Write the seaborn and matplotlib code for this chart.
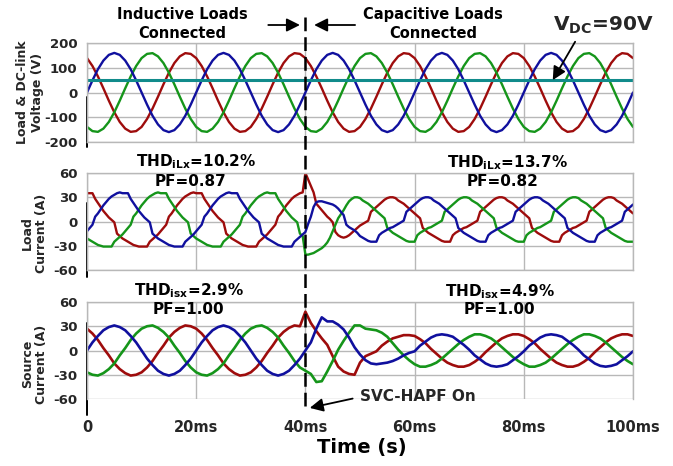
import numpy as np
import matplotlib
matplotlib.use("Agg")
import matplotlib.pyplot as plt
import seaborn as sns
from matplotlib.lines import Line2D
from matplotlib import transforms

# ---------------- data ----------------
# time grids (ms)
t_volt = np.arange(0, 101, 1.0)       # 1 ms samples, 0..100 ms
t_load = np.arange(0, 100.5, 0.5)     # 0.5 ms samples, 0..100 ms
t_src = np.arange(0, 101, 1.0)        # 1 ms samples, 0..100 ms

# Load voltages (V)
volt_blue = [
    0, 49, 94, 129, 152, 160, 152, 129, 94, 49, 0, -49, -94, -129, -152, -160, -152, -129, -94, -49,
    0, 49, 94, 129, 152, 160, 152, 129, 94, 49, 0, -49, -94, -129, -152, -160, -152, -129, -94, -49,
    0, 49, 94, 129, 152, 160, 152, 129, 94, 49, 0, -49, -94, -129, -152, -160, -152, -129, -94, -49,
    0, 49, 94, 129, 152, 160, 152, 129, 94, 49, 0, -49, -94, -129, -152, -160, -152, -129, -94, -49,
    0, 49, 94, 129, 152, 160, 152, 129, 94, 49, 0, -49, -94, -129, -152, -160, -152, -129, -94, -49,
    0]
volt_red = [
    139, 107, 65, 17, -33, -80, -119, -146, -159, -156, -139, -107, -65, -17, 33, 80, 119, 146, 159, 156,
    139, 107, 65, 17, -33, -80, -119, -146, -159, -156, -139, -107, -65, -17, 33, 80, 119, 146, 159, 156,
    139, 107, 65, 17, -33, -80, -119, -146, -159, -156, -139, -107, -65, -17, 33, 80, 119, 146, 159, 156,
    139, 107, 65, 17, -33, -80, -119, -146, -159, -156, -139, -107, -65, -17, 33, 80, 119, 146, 159, 156,
    139, 107, 65, 17, -33, -80, -119, -146, -159, -156, -139, -107, -65, -17, 33, 80, 119, 146, 159, 156,
    139]
volt_green = [
    -139, -156, -159, -146, -119, -80, -33, 17, 65, 107, 139, 156, 159, 146, 119, 80, 33, -17, -65, -107,
    -139, -156, -159, -146, -119, -80, -33, 17, 65, 107, 139, 156, 159, 146, 119, 80, 33, -17, -65, -107,
    -139, -156, -159, -146, -119, -80, -33, 17, 65, 107, 139, 156, 159, 146, 119, 80, 33, -17, -65, -107,
    -139, -156, -159, -146, -119, -80, -33, 17, 65, 107, 139, 156, 159, 146, 119, 80, 33, -17, -65, -107,
    -139, -156, -159, -146, -119, -80, -33, 17, 65, 107, 139, 156, 159, 146, 119, 80, 33, -17, -65, -107,
    -139]
dc_link_t = [0, 100]
dc_link_v = [50, 50]

# Load currents (A), 0.5 ms grid
load_red = [
    35, 35, 35, 28, 23, 18, 13, 9, 5, 2, -1, -15, -18, -21, -23, -25, -27, -29, -30, -31,
    -31, -31, -31, -25, -22, -19, -16, -12, -8, -4, 6, 10, 15, 20, 24, 28, 31, 33, 35, 36,
    35, 35, 35, 28, 23, 18, 13, 9, 5, 2, -1, -15, -18, -21, -23, -25, -27, -29, -30, -31,
    -31, -31, -31, -25, -22, -19, -16, -12, -8, -4, 6, 10, 15, 20, 24, 28, 31, 33, 35, 36,
    60, 52, 44, 36, 22, 18, 14, 10, 6, 3, -1, -13, -17, -19, -20, -19, -17, -14, -11, -8,
    -5, -3, -1, 1, 12, 15, 18, 21, 24, 27, 29, 30, 30, 29, 26, 24, 22, 19, 16, 13,
    10, 7, 4, -8, -11, -14, -16, -18, -20, -22, -24, -25, -25, -25, -17, -14, -12, -10, -8, -7,
    -5, -3, -1, 1, 12, 15, 18, 21, 24, 27, 29, 30, 30, 29, 26, 24, 22, 19, 16, 13,
    10, 7, 4, -8, -11, -14, -16, -18, -20, -22, -24, -25, -25, -25, -17, -14, -12, -10, -8, -7,
    -5, -3, -1, 1, 12, 15, 18, 21, 24, 27, 29, 30, 30, 29, 26, 24, 22, 19, 16, 13,
    10]
load_blue = [
    -12, -8, -4, 6, 10, 15, 20, 24, 28, 31, 33, 35, 36, 35, 35, 35, 28, 23, 18, 13,
    9, 5, 2, -1, -15, -18, -21, -23, -25, -27, -29, -30, -31, -31, -31, -31, -25, -22, -19, -16,
    -12, -8, -4, 6, 10, 15, 20, 24, 28, 31, 33, 35, 36, 35, 35, 35, 28, 23, 18, 13,
    9, 5, 2, -1, -15, -18, -21, -23, -25, -27, -29, -30, -31, -31, -31, -31, -25, -22, -19, -16,
    -13, -3, 6, 18, 24, 25, 25, 24, 23, 22, 21, 19, 16, 12, 8, -4, -7, -9, -11, -14,
    -18, -20, -22, -24, -25, -25, -25, -17, -14, -12, -10, -8, -7, -5, -3, -1, 1, 12, 15, 18,
    21, 24, 27, 29, 30, 30, 29, 26, 24, 22, 19, 16, 13, 10, 7, 4, -8, -11, -14, -16,
    -18, -20, -22, -24, -25, -25, -25, -17, -14, -12, -10, -8, -7, -5, -3, -1, 1, 12, 15, 18,
    21, 24, 27, 29, 30, 30, 29, 26, 24, 22, 19, 16, 13, 10, 7, 4, -8, -11, -14, -16,
    -18, -20, -22, -24, -25, -25, -25, -17, -14, -12, -10, -8, -7, -5, -3, -1, 1, 12, 15, 18,
    21]
load_green = [
    -21, -23, -25, -27, -29, -30, -31, -31, -31, -31, -25, -22, -19, -16, -12, -8, -4, 6, 10, 15,
    20, 24, 28, 31, 33, 35, 36, 35, 35, 35, 28, 23, 18, 13, 9, 5, 2, -1, -15, -18,
    -21, -23, -25, -27, -29, -30, -31, -31, -31, -31, -25, -22, -19, -16, -12, -8, -4, 6, 10, 15,
    20, 24, 28, 31, 33, 35, 36, 35, 35, 35, 28, 23, 18, 13, 9, 5, 2, -1, -15, -18,
    -41, -41, -40, -39, -37, -35, -33, -30, -26, -20, -12, -4, 4, 9, 14, 20, 25, 28, 30, 30,
    29, 26, 24, 22, 19, 16, 13, 10, 7, 4, -8, -11, -14, -16, -18, -20, -22, -24, -25, -25,
    -25, -17, -14, -12, -10, -8, -7, -5, -3, -1, 1, 12, 15, 18, 21, 24, 27, 29, 30, 30,
    29, 26, 24, 22, 19, 16, 13, 10, 7, 4, -8, -11, -14, -16, -18, -20, -22, -24, -25, -25,
    -25, -17, -14, -12, -10, -8, -7, -5, -3, -1, 1, 12, 15, 18, 21, 24, 27, 29, 30, 30,
    29, 26, 24, 22, 19, 16, 13, 10, 7, 4, -8, -11, -14, -16, -18, -20, -22, -24, -25, -25,
    -25]

# Source currents (A), 1 ms grid
src_blue = [
    0, 10, 18, 25, 29, 31, 29, 25, 18, 10, 0, -10, -18, -25, -29, -31, -29, -25, -18, -10,
    0, 10, 18, 25, 29, 31, 29, 25, 18, 10, 0, -10, -18, -25, -29, -31, -29, -25, -18, -10,
    0, 10, 27, 41, 36, 36, 32, 26, 16, 4, -5, -12, -16, -17, -16, -15, -13, -10, -6, -3,
    -1, 6, 11, 16, 19, 20, 19, 17, 12, 7, 1, -6, -11, -16, -19, -20, -19, -17, -12, -7,
    -1, 6, 11, 16, 19, 20, 19, 17, 12, 7, 1, -6, -11, -16, -19, -20, -19, -17, -12, -7,
    -1]
src_red = [
    27, 21, 13, 3, -6, -16, -23, -28, -31, -30, -27, -21, -13, -3, 6, 16, 23, 28, 31, 30,
    27, 21, 13, 3, -6, -16, -23, -28, -31, -30, -27, -21, -13, -3, 6, 16, 23, 28, 31, 30,
    48, 34, 24, 15, 7, -7, -20, -26, -29, -30, -15, -7, -4, -1, 6, 11, 15, 17, 19, 19,
    18, 14, 9, 2, -4, -10, -15, -18, -20, -20, -18, -14, -9, -2, 4, 10, 15, 18, 20, 20,
    18, 14, 9, 2, -4, -10, -15, -18, -20, -20, -18, -14, -9, -2, 4, 10, 15, 18, 20, 20,
    18]
src_green = [
    -27, -30, -31, -28, -23, -16, -6, 3, 13, 21, 27, 30, 31, 28, 23, 16, 6, -3, -13, -21,
    -27, -30, -31, -28, -23, -16, -6, 3, 13, 21, 27, 30, 31, 28, 23, 16, 6, -3, -13, -21,
    -25, -29, -39, -38, -26, -13, 1, 12, 22, 31, 31, 27, 26, 25, 22, 17, 9, 1, -6, -12,
    -17, -20, -20, -18, -15, -10, -4, 2, 8, 13, 17, 20, 20, 18, 15, 10, 4, -2, -8, -13,
    -17, -20, -20, -18, -15, -10, -4, 2, 8, 13, 17, 20, 20, 18, 15, 10, 4, -2, -8, -13,
    -17]

x_ticks = [0, 20, 40, 60, 80, 100]
x_tick_labels = ["0", "20ms", "40ms", "60ms", "80ms", "100ms"]
volt_ticks = [-200, -100, 0, 100, 200]
curr_ticks = [-60, -30, 0, 30, 60]
switch_time = 40

assert len(volt_blue) == len(volt_red) == len(volt_green) == len(t_volt)
assert len(load_blue) == len(load_red) == len(load_green) == len(t_load)
assert len(src_blue) == len(src_red) == len(src_green) == len(t_src)

# ---------------- style ----------------
sns.set_style("white")
plt.rcParams["font.family"] = ["DejaVu Sans"]
plt.rcParams["font.weight"] = "bold"
plt.rcParams["mathtext.default"] = "bf"
plt.rcParams["axes.unicode_minus"] = False

C_BLUE = "#10109e"
C_RED = "#9e0c0c"
C_GREEN = "#15951a"
C_TEAL = "#118b8b"
GRID = "#b8b8b8"
LW = 1.7

W, H = 673, 466
fig = plt.figure(figsize=(W / 100, H / 100), dpi=100)


def fx(x):
    return x / W


def fy(y):
    return 1 - y / H


def axes_px(x0, y0, x1, y1):
    return fig.add_axes([fx(x0), fy(y1), (x1 - x0) / W, (y1 - y0) / H])


ax1 = axes_px(87, 43, 633, 142)
ax2 = axes_px(87, 173, 633, 270)
ax3 = axes_px(87, 302, 633, 399)


def line(ax, x, y, color, lw=LW):
    sns.lineplot(x=x, y=y, ax=ax, color=color, linewidth=lw,
                 estimator=None, errorbar=None, sort=False)


line(ax1, t_volt, volt_red, C_RED)
line(ax1, t_volt, volt_green, C_GREEN)
line(ax1, t_volt, volt_blue, C_BLUE)
line(ax1, dc_link_t, dc_link_v, C_TEAL, lw=2.2)

line(ax2, t_load, load_red, C_RED)
line(ax2, t_load, load_green, C_GREEN)
line(ax2, t_load, load_blue, C_BLUE)

line(ax3, t_src, src_red, C_RED, lw=1.9)
line(ax3, t_src, src_green, C_GREEN, lw=1.9)
line(ax3, t_src, src_blue, C_BLUE, lw=1.9)


def style(ax, ylim, yticks):
    ax.set_xlim(0, 100)
    ax.set_ylim(*ylim)
    ax.set_yticks(yticks)
    ax.set_yticklabels([str(v) for v in yticks])
    ax.set_xticks(x_ticks)
    ax.set_axisbelow(True)
    ax.grid(True, color=GRID, lw=1.0)
    for s in ax.spines.values():
        s.set_color(GRID)
        s.set_linewidth(1.0)
    ax.tick_params(axis="y", length=0, pad=7, labelsize=9.5)
    ax.set_xlabel("")
    ax.set_ylabel("")


style(ax1, (-200, 200), volt_ticks)
style(ax2, (-60, 60), curr_ticks)
style(ax3, (-60, 60), curr_ticks)
for ax in (ax1, ax2):
    ax.tick_params(axis="x", length=0, labelbottom=False)

ax3.set_xticklabels(x_tick_labels)
ax3.spines["bottom"].set_position(("outward", 8.6))
ax3.spines["bottom"].set_color("none")
ax3.tick_params(axis="x", direction="out", length=2.5, width=1, color="#888888",
                pad=4, labelsize=10.5)

# partial black left lines
ax1.axvline(0, ymin=-0.05, ymax=0.455, color="black", lw=1.4, clip_on=False)
ax2.axvline(0, ymin=-0.07, ymax=0.69, color="black", lw=1.4, clip_on=False)
ax3.axvline(0, ymin=-0.165, ymax=0.78, color="black", lw=1.4, clip_on=False)

# dashed switching line
blend = transforms.blended_transform_factory(ax3.transData, fig.transFigure)
fig.add_artist(Line2D([switch_time, switch_time], [fy(406), fy(15)], transform=blend,
                      color="black", lw=1.8, linestyle=(0, (5.5, 2.4)), zorder=10))

# top arrows
arrow_kw = dict(arrowstyle="-|>", color="black", lw=1.3, mutation_scale=20,
                shrinkA=0, shrinkB=0)
ax1.annotate("", xy=(39.0, fy(25)), xytext=(33.2, fy(25)), xycoords=blend,
             textcoords=blend, arrowprops=arrow_kw, annotation_clip=False)
ax1.annotate("", xy=(41.6, fy(25)), xytext=(49.1, fy(25)), xycoords=blend,
             textcoords=blend, arrowprops=arrow_kw, annotation_clip=False)

# texts
tk = dict(ha="center", va="center", fontweight="bold", color="black")
fig.text(fx(182), fy(24), "Inductive Loads\nConnected", fontsize=10.5, linespacing=1.3, **tk)
fig.text(fx(433), fy(24), "Capacitive Loads\nConnected", fontsize=10.5, linespacing=1.3, **tk)
fig.text(fx(553), fy(25), "V$_{DC}$=90V", fontsize=14.5, ha="left", va="center",
         fontweight="bold")
ax1.annotate("", xy=(85.3, 50), xytext=(89.4, 205), arrowprops=arrow_kw,
             annotation_clip=False)

fig.text(fx(196), fy(162), "THD$_{iLx}$=10.2%", fontsize=11, **tk)
fig.text(fx(190), fy(182), "PF=0.87", fontsize=11, zorder=5, **tk)
fig.text(fx(507), fy(163), "THD$_{iLx}$=13.7%", fontsize=11, **tk)
fig.text(fx(503), fy(182), "PF=0.82", fontsize=11, zorder=5, **tk)
fig.text(fx(189), fy(291), "THD$_{isx}$=2.9%", fontsize=11, **tk)
fig.text(fx(188), fy(309), "PF=1.00", fontsize=11, zorder=5, **tk)
fig.text(fx(500), fy(292), "THD$_{isx}$=4.9%", fontsize=11, **tk)
fig.text(fx(499), fy(310), "PF=1.00", fontsize=11, zorder=5, **tk)

ax3.annotate("SVC-HAPF On", xy=(40.8, -71), xytext=(50.0, -57.5), ha="left", va="center",
             fontsize=11, fontweight="bold",
             arrowprops=dict(arrowstyle="-|>", color="black", lw=1.3, mutation_scale=20,
                             shrinkA=3, shrinkB=0, relpos=(0, 0.5)),
             annotation_clip=False)

# y labels
yl = dict(ha="center", va="center", rotation=90, fontsize=9, fontweight="bold",
          linespacing=1.1, multialignment="center")
fig.text(fx(30), fy(92), "Load & DC-link\nVoltage (V)", **yl)
fig.text(fx(34), fy(233), "Load\nCurrent (A)", **yl)
fig.text(fx(35), fy(364), "Source\nCurrent (A)", **yl)

fig.text(fx(362), fy(448), "Time (s)", fontsize=14, **tk)

fig.savefig("out.png", dpi=100)
